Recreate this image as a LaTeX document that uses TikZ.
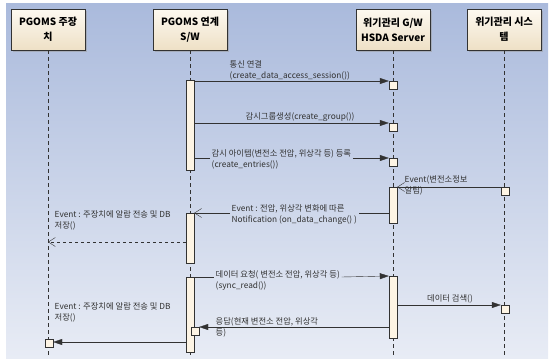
\documentclass[tikz,border=0pt]{standalone}
\usepackage{fontspec}
\setmainfont{Noto Sans CJK KR}
\usetikzlibrary{arrows.meta,shadows}
\definecolor{bgtop}{RGB}{170,186,220}
\definecolor{bgbot}{RGB}{232,236,245}
\definecolor{boxtop}{RGB}{253,249,240}
\definecolor{boxbot}{RGB}{238,224,198}
\definecolor{barfill}{RGB}{253,244,228}
\definecolor{ink}{RGB}{50,50,50}

\begin{document}
\begin{tikzpicture}[
x=1pt, y=-1pt,
actor/.style={draw=ink, top color=boxtop, bottom color=boxbot,
  minimum width=74pt, minimum height=41pt, anchor=north, align=center,
  font=\fontsize{10}{15}\selectfont\bfseries,
  drop shadow={shadow xshift=2pt, shadow yshift=-2pt, fill=black!40}},
lifeline/.style={draw=ink, dash pattern=on 4pt off 3pt},
bar/.style={draw=ink, fill=barfill, minimum width=8pt, inner sep=0pt, anchor=north},
cell/.style={draw=ink, fill=barfill, minimum size=8pt, inner sep=0pt, anchor=north},
msg/.style={font=\fontsize{8.3}{10.5}\selectfont, text=ink, align=left, inner sep=1.5pt, anchor=north west},
call/.style={draw=ink, -{Triangle[length=9pt,width=6pt]}},
reply/.style={draw=ink, -{Straight Barb[length=7pt,width=9pt]}},
line/.style={draw=ink}
]
\useasboundingbox (0,0) rectangle (551,362);
\shade[top color=bgtop, bottom color=bgbot] (6,3) rectangle (548,358);
\coordinate (bottom) at (0,358);

% lifelines
\node[actor] (pgoms) at (48,9) {PGOMS 주장\\치};
\node[actor] (sw) at (190,9) {PGOMS 연계\\S/W};
\node[actor] (hsda) at (393,9) {위기관리 G/W\\HSDA Server};
\node[actor] (crisis) at (504,9) {위기관리 시스\\템};
\foreach \n in {pgoms,sw,hsda,crisis}
  \draw[lifeline] (\n.south) -- (\n.south |- bottom);

% activations
\node[bar, minimum height=90pt] (swa) at (190,80) {};
\node[bar, minimum height=50pt] (swb) at (190,213) {};
\node[bar, minimum height=75pt] (swc) at (190,277) {};
\node[cell] (swr) at (195,327) {};
\node[cell] (hs1) at (393,81) {};
\node[cell] (hs2) at (393,123) {};
\node[cell] (hs3) at (393,158) {};
\node[bar, minimum height=36pt] (hsa) at (393,187) {};
\node[bar, minimum height=62pt] (hsb) at (393,276) {};
\node[cell] (cr1) at (505,187) {};
\node[cell] (cr2) at (505,305) {};
\node[cell] (pg1) at (49,339) {};

% messages
\node[msg] (m1) at (228,59) {통신 연결\\(create\_data\_access\_session())};
\draw[call] (swa.east |- hs1.north) -- (hs1.north west);

\node[msg] (m2) at (244,111) {감시그룹생성(create\_group())};
\draw[call] (swa.east |- hs2.north) -- (hs2.north west);

\node[msg] (m3) at (210,148) {감시 아이템(변전소 전압, 위상각 등) 등록\\(create\_entries())};
\draw[line] (swa.east |- hs3.north) -- (m3.west |- hs3.north);
\draw[call] (m3.east |- hs3.north) -- (hs3.north west);

\node[msg] (m4) at (403,174) {Event(변전소정보\\알림)};
\draw[reply] (cr1.north west) -- (hsa.north east);

\node[msg] (m5) at (230,203) {Event : 전압, 위상각 변화에 따른\\Notification (on\_data\_change() )};
\draw[line] (hsa.west |- swb.north) -- (m5.east |- swb.north);
\draw[reply] (m5.west |- swb.north) -- (swb.north east);

\node[msg] (m6) at (53,209) {Event : 주장치에 알람 전송 및 DB\\저장()};
\draw[reply, dashed] (swb.west |- 0,242) -- (pgoms.south |- 0,242);

\node[msg] (m7) at (214,269) {데이터 요청( 변전소 전압, 위상각 등)\\(sync\_read())};
\draw[line] (swc.north east) -- (m7.west |- swc.north);
\draw[call] (m7.east |- swc.north) -- (hsb.north west);

\node[msg, anchor=center] (m8) at (450,299) {데이터 검색()};
\draw[call] (hsb.east |- cr2.north) -- (cr2.north west);

\node[msg] (m9) at (214,316) {응답(현재 변전소 전압, 위상각\\등)};
\draw[call] (hsb.west |- swr.north) -- (swr.north east);

\node[msg] (m10) at (53,301) {Event : 주장치에 알람 전송 및 DB\\저장()};
\draw[call] (swc.west |- 0,342) -- (pg1.east |- 0,342);
\end{tikzpicture}
\end{document}
